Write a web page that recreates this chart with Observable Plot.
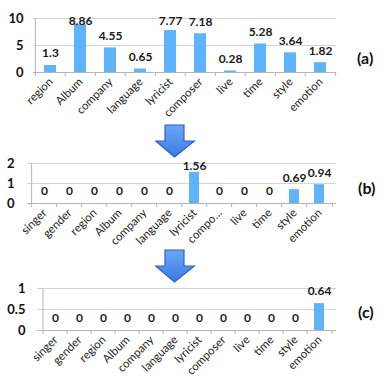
<!DOCTYPE html>
<html><head><meta charset="utf-8">
<script src="https://cdn.jsdelivr.net/npm/d3@7"></script>
<script src="https://cdn.jsdelivr.net/npm/@observablehq/plot@0.6"></script>
<style>
body{margin:0;background:#fff;}
#wrap{position:relative;width:388px;height:388px;overflow:hidden;font-family:Lato,"Open Sans",sans-serif;}
.panel{position:absolute;left:0;}
.tag{position:absolute;font-weight:bold;font-size:16px;color:#111;font-family:Lato,"Open Sans",sans-serif;}
.arrow{position:absolute;}
#dbg{position:absolute;left:0;top:0;font-size:9px;color:red;}
</style></head><body><div id="wrap"></div>
<script>
// ---- data ----
const catsA = ["region","Album","company","language","lyricist","composer","live","time","style","emotion"];
const valsA = [1.3, 8.86, 4.55, 0.65, 7.77, 7.18, 0.28, 5.28, 3.64, 1.82];
const ticksA = [0, 5, 10];

const catsB = ["singer","gender","region","Album","company","language","lyricist","compo…","live","time","style","emotion"];
const valsB = [0, 0, 0, 0, 0, 0, 1.56, 0, 0, 0, 0.69, 0.94];
const ticksB = [0, 1, 2];

const catsC = ["singer","gender","region","Album","company","language","lyricist","composer","live","time","style","emotion"];
const valsC = [0, 0, 0, 0, 0, 0, 0, 0, 0, 0, 0, 0.64];
const ticksC = [0, 0.5, 1];

const panelTags = ["(a)", "(b)", "(c)"];

const wrap = document.getElementById("wrap");
const FONT = "Lato, 'Open Sans', sans-serif";

function panel(cats, vals, ticks, o) {
  const ymax = ticks[ticks.length - 1];
  const data = cats.map((c, i) => ({cat: c, val: vals[i]}));
  const plotW = 388 - o.ml - o.mr;
  const plotH = o.height - o.mt - o.mb;
  const step = plotW / cats.length;
  const ppu = plotH / ymax;
  const labelY = d => Math.min(d.val + 12 / ppu, ymax - 3 / ppu);
  const chart = Plot.plot({
    width: 388, height: o.height,
    marginTop: o.mt, marginBottom: o.mb, marginLeft: o.ml, marginRight: o.mr,
    style: {fontFamily: FONT, background: "transparent", overflow: "visible", color: "#222"},
    x: {domain: cats, paddingInner: 0.6, paddingOuter: 0.3, axis: null},
    y: {domain: [0, ymax], axis: null},
    marks: [
      Plot.ruleY(ticks.filter(t => t > 0), {stroke: "#d4d4d4", strokeWidth: 1}),
      Plot.barY(data, {x: "cat", y: "val", fill: "#5eb4fc"}),
      Plot.ruleY([0], {stroke: "#b4b4b4", strokeWidth: 1}),
      Plot.ruleX([cats[0]], {x: d => d, y1: 0, y2: ymax, dx: -step / 2, stroke: "#b4b4b4"}),
      Plot.ruleX(cats, {x: d => d, y1: 0, y2: 0, insetBottom: -4, dx: -step / 2, stroke: "#b4b4b4"}),
      Plot.ruleX([cats[cats.length - 1]], {x: d => d, y1: 0, y2: 0, insetBottom: -4, dx: step / 2, stroke: "#b4b4b4"}),
      Plot.text(ticks, {y: d => d, text: d => String(d), frameAnchor: "left", textAnchor: "end", dx: -o.tp, fontWeight: "bold", fontSize: 13, fill: "#111"}),
      Plot.text(cats, {x: d => d, text: d => d, frameAnchor: "bottom", rotate: -45, textAnchor: "end", dx: 3, dy: 10, fontSize: 11.5, fill: "#222", ariaLabel: "catlabels"}),
      Plot.text(data, {x: "cat", y: labelY, text: d => String(d.val), fontWeight: "bold", fontSize: 12, fill: "#1a1a1a"})
    ]
  });
  // make sure category labels are rotated
  const g = chart.querySelector('g[aria-label="catlabels"]');
  if (g) {
    g.querySelectorAll("text").forEach(t => {
      let tr = t.getAttribute("transform") || "";
      if (!/rotate/.test(tr)) {
        const x = t.getAttribute("x"), y = t.getAttribute("y");
        if (x !== null || y !== null) {
          t.removeAttribute("x"); t.removeAttribute("y");
          tr = `translate(${x || 0},${y || 0}) ` + tr;
        }
        t.setAttribute("transform", (tr + " rotate(-45)").trim());
      }
      t.setAttribute("text-anchor", "end");
    });
  }
  chart.classList.add("panel");
  chart.style.top = o.top + "px";
  wrap.appendChild(chart);
}

panel(catsA, valsA, ticksA, {top: 0, height: 125, mt: 18, mb: 53, ml: 33, mr: 52, tp: 10});
panel(catsB, valsB, ticksB, {top: 130, height: 125, mt: 33, mb: 52, ml: 27, mr: 52, tp: 13});
panel(catsC, valsC, ticksC, {top: 255, height: 133, mt: 33, mb: 58, ml: 37, mr: 52, tp: 12});

const tagPos = [[357, 48], [358, 178], [358, 302]];
panelTags.forEach((t, i) => {
  const d = document.createElement("div");
  d.className = "tag";
  d.textContent = t;
  d.style.left = tagPos[i][0] + "px";
  d.style.top = tagPos[i][1] + "px";
  wrap.appendChild(d);
});

const arrowTops = [124, 249];
arrowTops.forEach((t, i) => {
  const d = document.createElement("div");
  d.className = "arrow";
  d.style.left = "155px";
  d.style.top = t + "px";
  d.innerHTML = `<svg width="41" height="35" viewBox="0 0 41 35">
    <defs><linearGradient id="ag${i}" x1="0" x2="0" y1="0" y2="1">
      <stop offset="0" stop-color="#6aa6f5"/><stop offset="1" stop-color="#3b7ae6"/></linearGradient></defs>
    <path d="M10 1 H29 V17 H39.5 L19.5 33 L0.5 17 H10 Z" fill="url(#ag${i})" stroke="#2f5fbf" stroke-width="1.2"/>
  </svg>`;
  wrap.appendChild(d);
});
</script></body></html>
